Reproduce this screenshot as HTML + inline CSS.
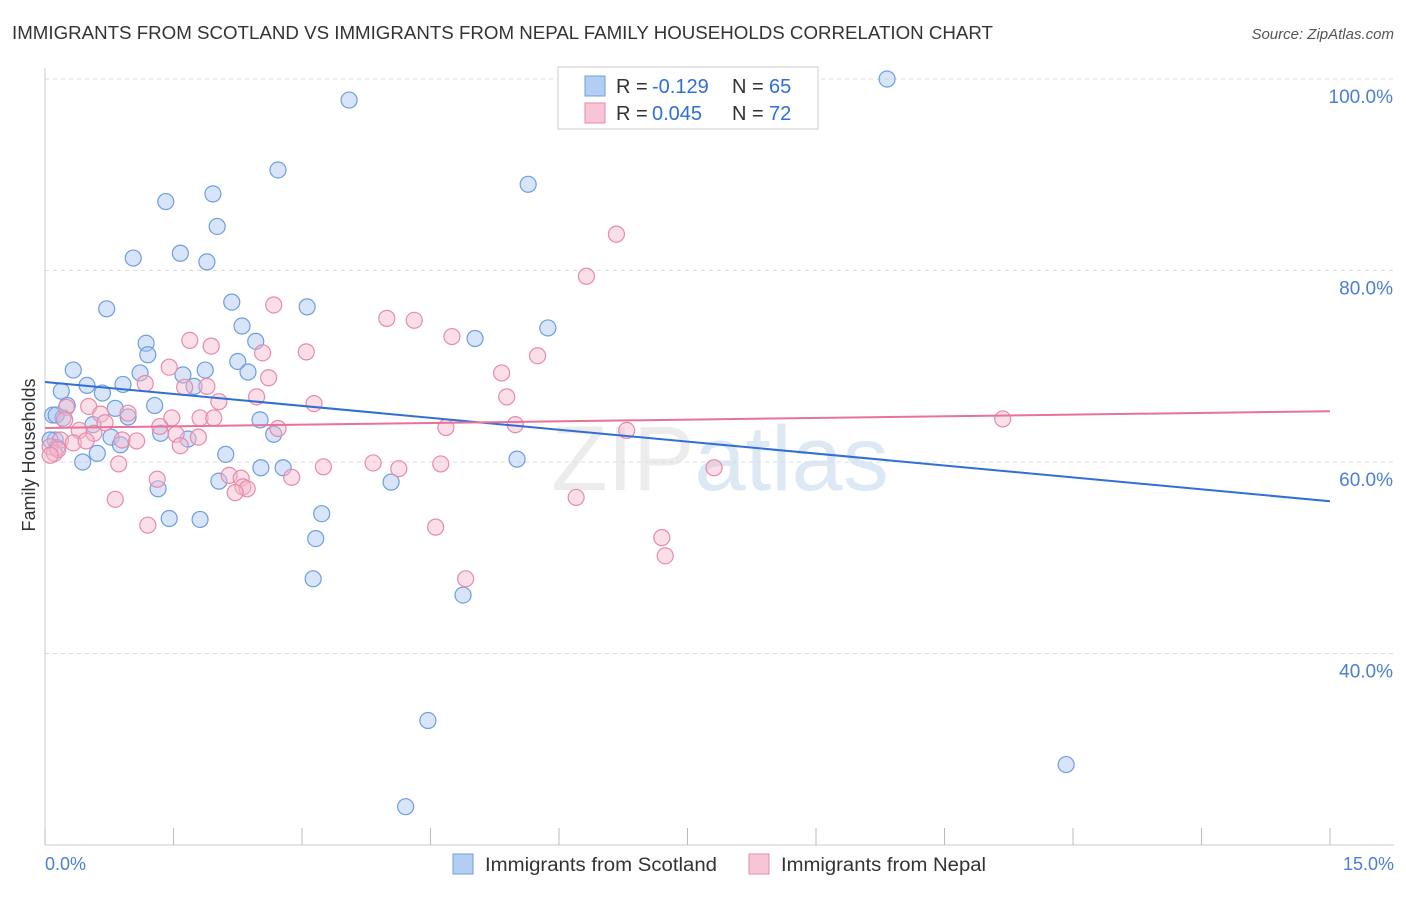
<!DOCTYPE html>
<html><head><meta charset="utf-8"><style>
body{margin:0;background:#fff;font-family:"Liberation Sans",sans-serif;}
svg text{font-family:"Liberation Sans",sans-serif;}
</style></head><body>
<svg id="chart" width="1406" height="892" xmlns="http://www.w3.org/2000/svg">
<text x="12" y="39" font-size="18" fill="#333" textLength="981" lengthAdjust="spacingAndGlyphs">IMMIGRANTS FROM SCOTLAND VS IMMIGRANTS FROM NEPAL FAMILY HOUSEHOLDS CORRELATION CHART</text>
<text x="1394" y="39" font-size="15" fill="#555" font-style="italic" text-anchor="end">Source: ZipAtlas.com</text>
<text x="720" y="490" font-size="92" fill="#ececec" text-anchor="middle" font-family="Liberation Serif">ZIP<tspan fill="#dde8f5" font-family="Liberation Sans">atlas</tspan></text>
<g id="grid"></g><g id="marks"></g>
<text x="35" y="455" font-size="18" fill="#333" text-anchor="middle" transform="rotate(-90 35 455)">Family Households</text>
<text x="45" y="870" font-size="18" fill="#4a7fd4">0.0%</text>
<text x="1394" y="870" font-size="18" fill="#4a7fd4" text-anchor="end">15.0%</text>
<g>
<rect x="558" y="67" width="260" height="62" fill="#fff" stroke="#ccc"/>
<rect x="585" y="76" width="20" height="20" fill="#b3cdf3" stroke="#6d9ee0"/>
<rect x="585" y="103" width="20" height="20" fill="#f8c5d6" stroke="#e88aaa"/>
<text x="616" y="93" font-size="20" fill="#333">R =</text>
<text x="652" y="93" font-size="20" fill="#2f6fd6">-0.129</text>
<text x="732" y="93" font-size="20" fill="#333">N =</text>
<text x="769" y="93" font-size="20" fill="#2f6fd6">65</text>
<text x="616" y="120" font-size="20" fill="#333">R =</text>
<text x="652" y="120" font-size="20" fill="#2f6fd6">0.045</text>
<text x="732" y="120" font-size="20" fill="#333">N =</text>
<text x="769" y="120" font-size="20" fill="#2f6fd6">72</text>
</g>
<g>
<rect x="453" y="854" width="20" height="20" fill="#b3cdf3" stroke="#6d9ee0"/>
<text x="485" y="871" font-size="19" fill="#333" textLength="232" lengthAdjust="spacingAndGlyphs">Immigrants from Scotland</text>
<rect x="749" y="854" width="20" height="20" fill="#f8c5d6" stroke="#e88aaa"/>
<text x="781" y="871" font-size="19" fill="#333" textLength="205" lengthAdjust="spacingAndGlyphs">Immigrants from Nepal</text>
</g>
</svg>
<script>
const yTicks=[40,60,80,100];
const yTickLabels=["40.0%","60.0%","80.0%","100.0%"];
const xTicks=[0,1.5,3,4.5,6,7.5,9,10.5,12,13.5,15];
const scotlandX=[9.83,3.55,2.72,5.64,1.96,1.41,2.01,1.58,1.03,1.89,0.72,2.18,3.06,2.30,5.87,5.02,1.18,2.46,1.20,2.25,2.37,0.33,1.11,1.61,1.87,0.49,0.91,0.19,0.67,1.74,0.26,1.28,0.82,0.09,0.97,2.51,0.21,0.56,0.77,1.35,1.67,2.67,0.12,0.88,0.61,0.44,2.11,5.51,2.52,2.78,2.03,4.04,1.32,1.45,1.81,3.23,3.16,3.13,4.88,4.47,11.92,4.21,0.13,0.06,0.14];
const scotlandY=[100,97.8,90.5,89.0,88.0,87.2,84.6,81.8,81.3,80.9,76.0,76.7,76.2,74.2,74.0,72.9,72.4,72.6,71.2,70.5,69.4,69.6,69.3,69.1,69.6,68.0,68.1,67.4,67.2,67.9,65.9,65.9,65.6,64.9,64.7,64.4,64.6,63.9,62.6,63.0,62.4,62.9,62.3,61.8,60.9,60.0,60.8,60.3,59.4,59.4,58.0,57.9,57.2,54.1,54.0,54.6,52.0,47.8,46.1,33.0,28.4,24.0,64.9,62.3,61.5];
const nepalX=[6.67,6.32,2.67,3.99,4.31,4.75,1.69,1.94,2.54,3.05,5.75,1.45,5.33,1.17,1.89,1.63,2.61,2.47,5.39,2.03,3.14,0.51,0.25,0.65,0.97,1.48,1.81,1.97,11.18,0.70,1.34,2.72,4.68,5.49,6.79,0.40,0.57,1.53,1.79,0.18,0.33,0.90,1.07,1.58,0.06,0.11,0.86,3.25,3.83,4.13,4.62,7.81,2.15,2.29,2.88,1.31,2.31,2.36,2.22,0.82,6.20,1.20,4.56,7.20,7.24,4.91,0.15,0.48,0.23,0.06];
const nepalY=[83.8,79.4,76.4,75.0,74.8,73.1,72.7,72.1,71.4,71.5,71.1,69.9,69.3,68.2,67.9,67.8,68.8,66.8,66.8,66.3,66.1,65.8,65.7,65.0,65.1,64.6,64.6,64.6,64.5,64.1,63.7,63.5,63.6,63.9,63.3,63.3,63.0,62.9,62.6,62.3,62.0,62.3,62.2,61.7,61.6,60.9,59.8,59.5,59.9,59.3,59.8,59.4,58.6,58.3,58.4,58.2,57.4,57.2,56.8,56.1,56.3,53.4,53.2,52.1,50.2,47.8,61.3,62.2,64.4,60.7];
const scotlandTrend=[68.35,55.9];
const nepalTrend=[63.55,65.3];
const NS="http://www.w3.org/2000/svg";
const xs=v=>45+v/15*1285;
const ys=v=>79+(100-v)*9.575;
function mk(tag,attrs,parent){const e=document.createElementNS(NS,tag);for(const k in attrs)e.setAttribute(k,attrs[k]);parent.appendChild(e);return e;}
const grid=document.getElementById('grid'),marks=document.getElementById('marks');
yTicks.forEach((t,i)=>{
  const l=mk('line',{x1:45,x2:1394,y1:ys(t),y2:ys(t),stroke:'#ddd','stroke-dasharray':'4,4'},grid);
  
  
  const tx=mk('text',{x:1393,y:ys(t)+24,'font-size':19,fill:'#4a7fd4','text-anchor':'end'},grid);
  tx.textContent=yTickLabels[i];
  
  
});
const ax=mk('line',{x1:45,x2:1394,y1:845,y2:845,stroke:'#ccc'},grid);


const ay=mk('line',{x1:45,x2:45,y1:68,y2:845,stroke:'#ccc'},grid);


xTicks.forEach(t=>{
  const l=mk('line',{x1:xs(t),x2:xs(t),y1:828,y2:845,stroke:'#bbb'},grid);
  
  
});
function pts(X,Y,fill,stroke,name){
  X.forEach((x,i)=>{
    const c=mk('circle',{cx:xs(x),cy:ys(Y[i]),r:8,fill:fill,'fill-opacity':0.45,stroke:stroke,'stroke-width':1.2},marks);
    
    
  });
}
pts(scotlandX,scotlandY,'#a9c6f0','#6d9ee0','scotland-point');
pts(nepalX,nepalY,'#f5b8cc','#e88aaa','nepal-point');
const t1=mk('line',{x1:xs(0),y1:ys(scotlandTrend[0]),x2:xs(15),y2:ys(scotlandTrend[1]),stroke:'#2f6fd6','stroke-width':2},marks);


const t2=mk('line',{x1:xs(0),y1:ys(nepalTrend[0]),x2:xs(15),y2:ys(nepalTrend[1]),stroke:'#e8729a','stroke-width':2},marks);


</script>
</body></html>
